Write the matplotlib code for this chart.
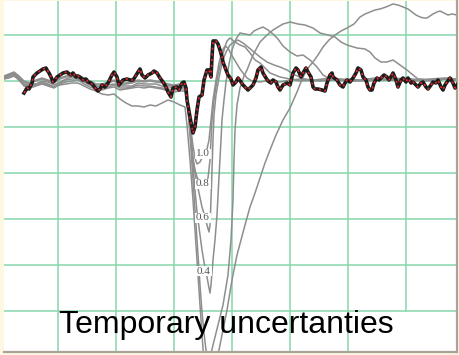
import matplotlib
matplotlib.use("Agg")
import matplotlib.pyplot as plt

# -----------------------------
# Data (signal level vs. sample index)
# -----------------------------
# main (measured) trace
main_x = [24, 27, 29, 32, 33, 37, 40, 43, 46, 47, 49, 51, 53, 55, 57, 60, 63, 67, 68, 71,
          73, 76, 78, 81, 83, 86, 88, 91, 93, 96, 98, 100,
          102, 105, 108, 112, 114, 117, 119, 123, 127, 130, 133, 135, 138, 140, 142, 145, 148, 152,
          154, 157, 160, 163, 166, 168, 171, 173, 177, 179, 182, 184, 186,
          187, 190, 193, 195, 197, 199, 202, 204, 207, 209, 211, 212, 213, 216, 218, 220, 222, 223,
          226, 228, 231, 233, 236, 238, 241, 243, 246, 248, 251, 253, 256, 258, 261, 263, 266, 268,
          271, 273, 276, 278, 280,
          283, 287, 290, 291, 293, 296, 298, 301, 303, 306, 308, 311, 313, 315, 318, 322, 325, 327,
          330, 332, 333, 337, 340, 343, 345, 347, 350, 353, 356, 358, 361, 363, 366, 368, 370,
          372, 374, 377, 379, 382, 384, 387, 389, 392, 393, 396, 398, 401, 403, 406, 408, 411, 413,
          416, 418, 421, 423, 426, 428, 431, 433, 436, 438, 441, 443, 445, 447, 450, 453, 455, 457, 459]
main_y = [-12, -7, -8, -2, 4, 8, 10, 12, 13, 11, 8, 4, -1, 1, 4, 6, 8, 9, 8, 6,
          8, 4, 5, 3, 1, 2, -1, -2, -4, -8, -10, -8,
          -4, -6, -2, 6, 9, 4, -4, 1, 2, 1, 1, 4, 9, 12, 6, 3, 6, 8,
          10, 8, 3, -1, -6, -11, -16, -7, -6, -9, -2, -1, -7,
          -19, -36, -52, -46, -29, -16, -14, 1, 11, 11, 4, 24, 40, 40, 37, 31, 24, 19,
          11, 6, 2, -4, -1, 3, -1, -4, -7, -9, -6, -4, 3, 11, 14, 8, 3, 0,
          -2, 1, -1, -6, -9,
          -4, -2, -4, 0, 8, 13, 11, 4, 8, 13, 9, 4, -6, -8, -8, -9, -10, -2,
          6, 8, 4, 1, -4, -6, -2, 1, -1, 3, 8, 13, 11, 4, 1, -6, -9,
          -9, -2, 3, 1, 4, 6, 4, 1, 6, 8, 1, -6, 1, 3, -1, 3, -2, -1,
          -4, -6, -2, -1, -6, -8, -4, -1, -2, 1, -6, -9, -4, -1, 3, -2, -7, -4, -1]

# simulated traces, before the disturbance (shared sample positions)
pre_x = [4, 9, 14, 19, 24, 30, 36, 42, 48, 54, 60, 66, 72, 78, 84, 90,
         96, 102, 108, 114, 120, 126, 132, 138, 144, 150, 156, 162, 168, 174, 180, 185]
pre_10 = [5, 7, 9, 5, 0, -2, 1, 3, 1, -1, 3, 5, 6, 6, 3, 0,
          -3, -3, -1, 1, -2, -2, -1, 1, 0, 1, 0, -1, -3, -4, -3, -3]
pre_08 = [4, 6, 8, 4, -1, -3, 0, 2, 0, -2, 2, 4, 5, 5, 2, -1,
          -4, -4, -2, 0, -4, -3, -2, 0, -1, 0, -1, -2, -4, -5, -4, -5]
pre_06 = [3, 4, 7, 2, -3, -4, -3, 0, -1, -4, -1, 2, 4, 3, 0, -2,
          -5, -7, -4, -3, -5, -5, -5, -2, -3, -3, -3, -5, -6, -6, -7, -6]
pre_04 = [2, 5, 6, 1, -4, -6, -4, -1, -3, -6, -2, 1, 2, 2, -1, -4,
          -7, -8, -6, -4, -7, -7, -6, -4, -5, -5, -6, -7, -8, -9, -8, -8]
pre_e = [2, 3, 5, 1, -5, -7, -5, -3, -5, -7, -3, -1, 0, 1, -3, -6,
         -8, -9, -7, -6, -9, -8, -7, -6, -7, -6, -7, -8, -10, -11, -10, -10]
pre_f = [4, 6, 7, 3, -3, -5, -3, -2, -4, -6, -4, -3, -2, -2, -5, -8,
         -10, -13, -14, -13, -18, -22, -25, -25, -26, -24, -25, -22, -19, -21, -24, -26]

# simulated traces, during and after the disturbance
post_10_x = [187, 189, 191, 193, 195, 197, 200, 203, 207, 209, 211, 213, 216, 219, 222, 225, 228, 231, 234, 237,
             240, 243, 247, 252, 260, 270, 280, 290, 300, 312, 325, 340, 355, 370, 385, 400, 415, 430, 445, 457]
post_10_y = [-14, -31, -49, -65, -77, -83, -81, -75, -68, -59, -39, -19, 1, 18, 30, 35, 33, 27, 22, 17,
             12, 8, 3, 0, -1, 1, -1, 1, 2, 0, 1, 2, 0, 2, 1, 2, 0, 2, 3, 2]

post_08_x = [187, 189, 191, 193, 195, 197, 200, 203, 206, 208, 210, 211, 212, 214, 217, 220, 224, 227, 230, 235,
             240, 245, 250, 255, 260, 265, 270, 280, 290, 300, 315, 330, 345, 360, 375, 390, 405, 420, 435, 450, 457]
post_08_y = [-16, -37, -59, -77, -89, -96, -102, -104, -103, -97, -79, -59, -39, -19, 1, 16, 31, 40, 43, 39,
             36, 34, 28, 21, 18, 13, 8, 4, 2, 0, 1, 3, 1, 0, 2, 1, 3, 1, 0, 3, 1]

post_06_x = [187, 189, 191, 193, 196, 199, 202, 205, 207, 209, 210, 211, 212, 213, 214, 216, 219, 222, 226, 230,
             234, 238, 243, 248, 254, 260, 267, 274, 280, 287, 295, 305, 320, 335, 350, 365, 380, 395, 410, 425, 440, 457]
post_06_y = [-17, -37, -59, -79, -97, -112, -126, -136, -144, -151, -144, -119, -89, -59, -34, -14, 3, 18, 29, 36,
             39, 41, 38, 34, 29, 24, 19, 16, 14, 11, 6, 2, 0, 1, 2, 0, 1, 3, 1, 0, 2, 1]

post_04_x = [187, 189, 191, 193, 195, 197, 200, 202, 204, 207, 209, 210, 211, 213, 215, 217, 219, 221, 222, 224,
             226, 229, 232, 236, 240, 245, 250, 254, 258, 263, 268, 273, 278, 283, 290, 297, 303, 310, 317, 323,
             330, 345, 360, 375, 390, 405, 420, 435, 450, 457]
post_04_y = [-19, -37, -59, -84, -109, -131, -154, -169, -181, -196, -207, -212, -204, -179, -159, -134, -96, -59, -39, -19,
             -1, 17, 31, 42, 48, 47, 46, 50, 52, 54, 51, 47, 42, 35, 29, 25, 26, 21, 14, 6,
             2, 0, 1, 3, 1, 0, 2, 1, 3, 1]

post_e_x = [187, 189, 191, 194, 197, 200, 202, 204, 206, 208, 210, 213, 218, 223, 228, 231, 233, 234, 235, 237,
            240, 244, 247, 253, 260, 267, 273, 283, 290, 298, 305, 313, 320, 328, 335, 341, 347, 357, 365, 370,
            375, 381, 387, 393, 400, 407, 413, 418, 425, 435, 445, 457]
post_e_y = [-19, -41, -69, -114, -159, -204, -231, -252, -269, -281, -277, -264, -244, -224, -194, -159, -119, -79, -49, -24,
            -7, 5, 11, 26, 39, 46, 51, 57, 59, 57, 56, 53, 48, 46, 44, 39, 36, 33, 32, 29,
            23, 19, 19, 21, 16, 11, 6, 2, 1, 0, 2, 1]

post_f_x = [187, 190, 193, 196, 199, 202, 205, 208, 212, 217, 222, 227, 232, 237, 241, 245, 250, 255, 260, 265,
            270, 276, 283, 290, 297, 303, 308, 313, 318, 323, 329, 335, 341, 347, 354, 360, 365, 370, 375, 380,
            386, 393, 398, 403, 408, 412, 416, 420, 424, 427, 430, 433, 437, 440, 444, 448, 452, 457]
post_f_y = [-44, -79, -119, -164, -209, -254, -294, -319, -309, -279, -254, -229, -199, -174, -159, -144, -126, -112, -97, -82,
            -69, -54, -39, -27, -11, 4, 13, 19, 26, 34, 41, 46, 50, 53, 57, 64, 67, 69, 71, 72,
            74, 77, 76, 74, 72, 69, 66, 64, 63, 63, 65, 67, 69, 70, 68, 66, 67, 66]

# curve labels (gain values) and where they sit on their curves
gain_labels = ["1.0", "0.8", "0.6", "0.4"]
gain_label_x = [203, 203, 203, 204]
gain_label_y = [-73, -103, -137, -190]

caption = "Temporary uncertanties"

# -----------------------------
# Plot
# -----------------------------
fig = plt.figure(figsize=(4.59, 3.55), dpi=100)
fig.patch.set_facecolor("#fef7e2")
ax = fig.add_axes([4 / 459, 3 / 355, 453 / 459, 351 / 355])
ax.set_facecolor("white")
ax.set_xlim(4, 457)
ax.set_ylim(-271, 80)

grid_c = "#86d6ab"
for v in [58, 116, 174, 232, 290, 348]:
    ax.axvline(v, color=grid_c, lw=1.1, zorder=0)
ax.axvline(406, ymin=41 / 351, color=grid_c, lw=1.1, zorder=0)
for h in [46, 0, -46, -92, -138, -184, -230]:
    ax.axhline(h, color=grid_c, lw=1.1, zorder=0)

gray = "#8e8e8e"
for pre, px, py in [(pre_f, post_f_x, post_f_y),
                    (pre_e, post_e_x, post_e_y),
                    (pre_04, post_04_x, post_04_y),
                    (pre_06, post_06_x, post_06_y),
                    (pre_08, post_08_x, post_08_y),
                    (pre_10, post_10_x, post_10_y)]:
    ax.plot(pre_x + px, pre + py, color=gray, lw=1.1, zorder=2)

ax.plot(main_x, main_y, color="#1c1c1c", lw=2.6, zorder=4, solid_joinstyle="round")
ax.plot(main_x, main_y, color="#e8262b", lw=1.2, linestyle=(0, (1.2, 2.2)), zorder=5)

for lab, lx, ly in zip(gain_labels, gain_label_x, gain_label_y):
    ax.text(lx, ly, lab, fontsize=8, family="Liberation Serif", color="#555555",
            ha="center", va="center", zorder=3,
            bbox=dict(facecolor="white", edgecolor="none", pad=0.6))

ax.text(226, -252, caption, fontsize=23, family="Liberation Sans", color="black",
        ha="center", va="baseline", zorder=6)

ax.set_xticks([])
ax.set_yticks([])
for s in ["left", "top"]:
    ax.spines[s].set_visible(False)
for s in ["right", "bottom"]:
    ax.spines[s].set_color("#aaa398")
    ax.spines[s].set_linewidth(1.6)

fig.savefig("out.png", dpi=100, facecolor=fig.get_facecolor())
plt.close(fig)
